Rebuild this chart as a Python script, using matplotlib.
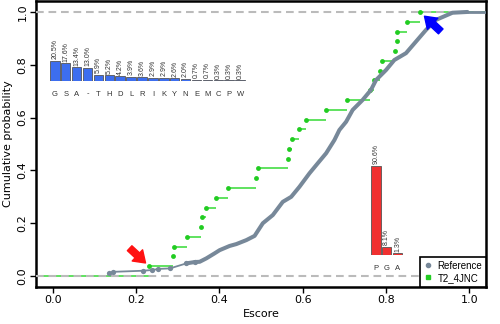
import numpy as np
import matplotlib.pyplot as plt
from matplotlib.lines import Line2D

# Reference ECDF (escore, cumulative probability)
ref_x = [0.1356, 0.1451, 0.2156, 0.2395, 0.2539, 0.2817, 0.3210, 0.3408, 0.3528,
         0.3689, 0.3887, 0.4007, 0.4247, 0.4407, 0.4647, 0.4846, 0.5044, 0.5284,
         0.5523, 0.5725, 0.5923, 0.6163, 0.6362, 0.6563, 0.6762, 0.6881, 0.7042,
         0.7200, 0.7440, 0.7640, 0.7760, 0.8000, 0.8200, 0.8480, 0.8720, 0.8960,
         0.9200, 0.9595, 0.9954]
ref_y = [0.010, 0.016, 0.020, 0.023, 0.027, 0.029, 0.048, 0.053, 0.054,
         0.067, 0.086, 0.098, 0.114, 0.121, 0.136, 0.152, 0.200, 0.231,
         0.281, 0.300, 0.338, 0.389, 0.427, 0.465, 0.515, 0.553, 0.584,
         0.629, 0.667, 0.705, 0.742, 0.780, 0.818, 0.844, 0.888, 0.932,
         0.970, 0.997, 1.000]

# T2_4JNC escore values (sorted)
t2_x = [0.2314, 0.2893, 0.2905, 0.3224, 0.3552, 0.3576, 0.3684, 0.3919, 0.4206,
        0.4869, 0.4917, 0.5660, 0.5667, 0.5739, 0.5906, 0.6084, 0.6570, 0.7066,
        0.7607, 0.7703, 0.7856, 0.7894, 0.8206, 0.8259, 0.8263, 0.8503, 0.8814]

# residue composition insets
ref_res = ['G', 'S', 'A', '-', 'T', 'H', 'D', 'L', 'R', 'I', 'K', 'Y', 'N', 'E', 'M', 'C', 'P', 'W']
ref_pct = [20.5, 17.6, 13.4, 13.0, 5.9, 5.2, 4.2, 3.9, 3.6, 2.9, 2.9, 2.6, 2.0, 0.7, 0.7, 0.3, 0.3, 0.3]
t2_res = ['P', 'G', 'A']
t2_pct = [90.6, 8.1, 1.3]

gray = '#778899'
green = '#22CC22'

fig = plt.figure(figsize=(5, 3.24), dpi=100)
ax = fig.add_axes([0.072, 0.1154, 0.9, 0.8803])
xmin, xmax = -0.04, 1.04

# T2 ecdf: horizontal steps + points
n = len(t2_x)
t2_y = np.arange(1, n + 1) / n
ax.hlines([0] + list(t2_y), [xmin] + t2_x, t2_x + [xmax], color='#44DD44', lw=1.2, zorder=2)
ax.plot(t2_x, t2_y, 'o', color=green, ms=3.5, mec='none', zorder=4)

# dashed limits
ax.axhline(0, color='#BBBBBB', ls=(0, (3.7, 2.3)), lw=1.5, zorder=3)
ax.axhline(1, color='#BBBBBB', ls=(0, (3.7, 2.3)), lw=1.5, zorder=3)

# reference curve
ax.plot(ref_x, ref_y, color=gray, lw=1.3, zorder=5)
ax.plot(ref_x[6:], ref_y[6:], color=gray, lw=2.9, solid_capstyle='round', zorder=5)
ax.plot(ref_x[:8], ref_y[:8], 'o', color=gray, ms=3.8, mec='none', zorder=5)
ax.hlines([1.0], [ref_x[-1]], [xmax], color=gray, lw=2.0, zorder=5)

# arrows
arrow_style = 'simple,head_width=1.1,head_length=0.8,tail_width=0.48'
ax.annotate('', xy=(t2_x[0], t2_y[0]), xytext=(-14, 13), textcoords='offset points',
            arrowprops=dict(arrowstyle=arrow_style, color='#FF1111', shrinkA=0,
                            shrinkB=3.5, mutation_scale=10), zorder=6)
ax.annotate('', xy=(t2_x[-1], t2_y[-1]), xytext=(15, -14), textcoords='offset points',
            arrowprops=dict(arrowstyle=arrow_style, color='#0000FF', shrinkA=0,
                            shrinkB=4.5, mutation_scale=10), zorder=6)

ax.set_xlim(xmin, xmax)
ax.set_ylim(-0.04, 1.04)
ax.set_xticks([0.0, 0.2, 0.4, 0.6, 0.8, 1.0])
ax.set_yticks([0.0, 0.2, 0.4, 0.6, 0.8, 1.0])
ax.tick_params(direction='out', length=4, width=1, labelsize=8, pad=2)
for lbl in ax.get_yticklabels():
    lbl.set_rotation(90)
    lbl.set_va('center')
for s in ax.spines.values():
    s.set_linewidth(1.8)
ax.set_xlabel('Escore', fontsize=8, labelpad=3)
ax.set_ylabel('Cumulative probability', fontsize=8, labelpad=3)

handles = [Line2D([], [], ls='none', marker='o', color=gray, ms=3),
           Line2D([], [], ls='none', marker='s', color=green, ms=2.5)]
leg = ax.legend(handles, ['Reference', 'T2_4JNC'], loc='lower right', bbox_to_anchor=(1, 0),
                borderaxespad=0, fancybox=False, edgecolor='black', framealpha=1,
                prop={'family': 'Liberation Sans', 'size': 7}, handlelength=0.8,
                handletextpad=0.6, borderpad=0.4, labelspacing=0.2)
leg.get_frame().set_linewidth(1.2)
leg.set_zorder(7)


def bar_inset(rect, labels, pct, color, ytop):
    bx = fig.add_axes(rect)
    bx.patch.set_alpha(0)
    bx.axis('off')
    pos = np.arange(len(labels))
    bx.bar(pos, pct, width=0.87, color=color, edgecolor='#555555', lw=0.6)
    for p, v, lab in zip(pos, pct, labels):
        bx.text(p, v + 1.5, f'{v:.1f}%', rotation=90, ha='center', va='bottom',
                fontsize=5, color='#333333', family='Liberation Sans')
        bx.text(p, -14, lab, ha='center', va='center', fontsize=5.5,
                color='#333333', family='Liberation Sans')
    bx.set_xlim(-0.55, len(labels) - 0.45)
    bx.set_ylim(0, ytop)
    return bx


bar_inset([48.8 / 500, (324 - 80.5) / 324, 197.3 / 500, 39 / 324], ref_res, ref_pct, '#3D6EEF', 40)
bar_inset([370 / 500, (324 - 254.5) / 324, 33.5 / 500, 98 / 324], t2_res, t2_pct, '#F03030', 100)

fig.savefig('out.png', dpi=100)
